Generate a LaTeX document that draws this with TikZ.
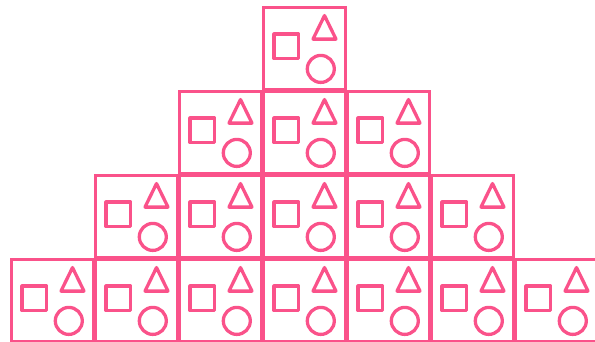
\documentclass[tikz,border=0pt]{standalone}
\definecolor{pk}{RGB}{250,82,138}
\tikzset{
  boxline/.style={draw=pk, line width=3.2pt},
  shapeline/.style={draw=pk, line width=3.3pt, line join=round}
}
\begin{document}
\begin{tikzpicture}[x=1pt,y=-1pt]
\useasboundingbox (0,0) rectangle (595,341);
\clip (0,0) rectangle (595,341);
\foreach \r in {0,1,2,3}{
  \pgfmathtruncatemacro{\n}{2*\r}
  \foreach \i in {0,...,\n}{
    \pgfmathsetmacro{\bx}{262.5-84*\r+84*\i}
    \pgfmathsetmacro{\by}{6.6+84*\r}
    \begin{scope}[shift={(\bx,\by)}]
      \draw[boxline] (0.75,0.75) rectangle (83.25,83.25);
      \draw[shapeline] (11.5,27.5) rectangle (36,52);
      \draw[shapeline] (62,9) -- (73.5,32.5) -- (50.5,32.5) -- cycle;
      \draw[shapeline] (58.3,62.3) circle[radius=13.5];
    \end{scope}
  }
}
\end{tikzpicture}
\end{document}
